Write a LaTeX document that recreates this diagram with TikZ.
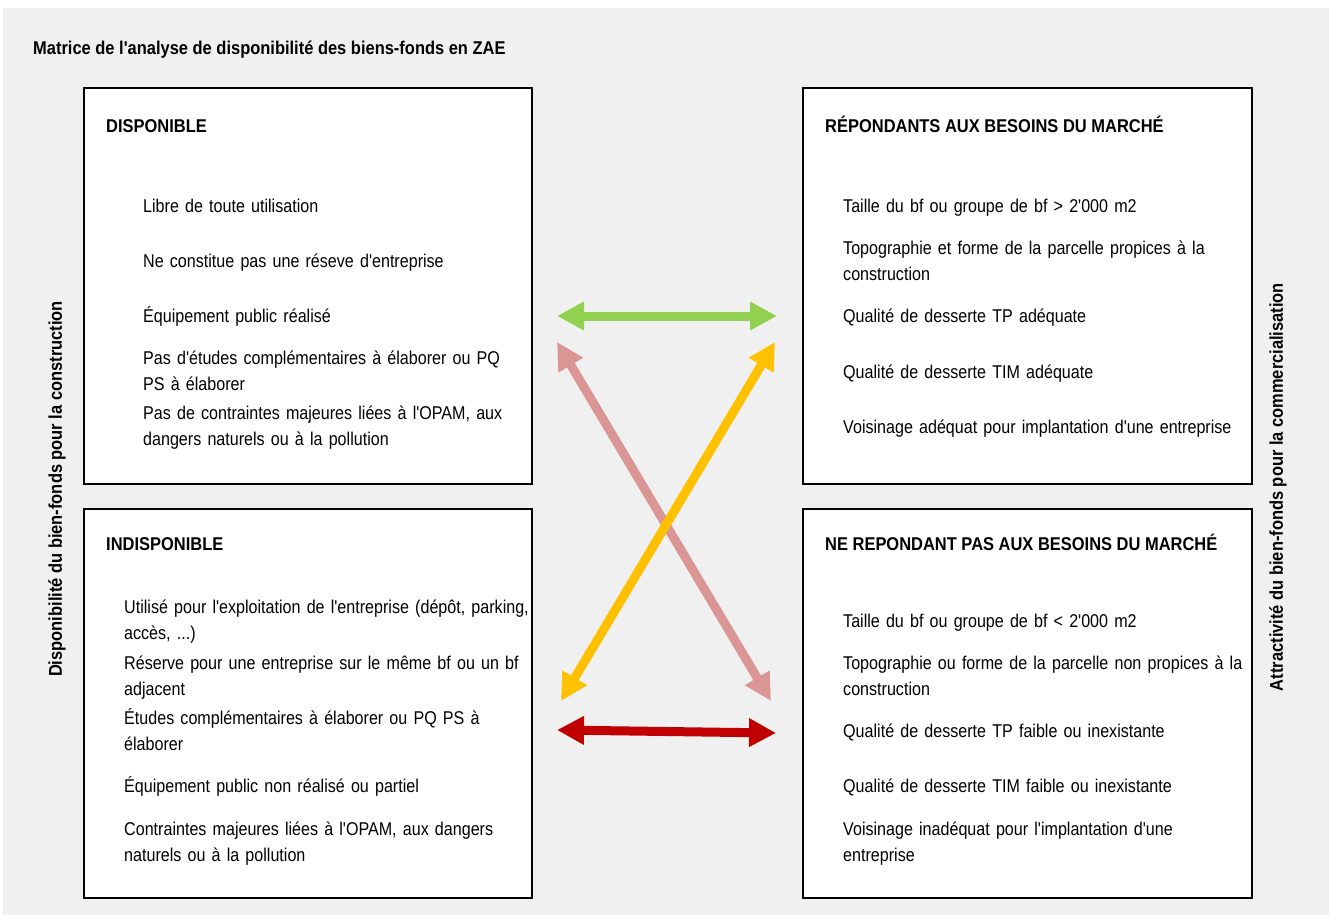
\documentclass[tikz,border=0pt]{standalone}
\usepackage{fontspec}
\setmainfont{Liberation Sans}[FakeStretch=0.87, Ligatures=TeXOff, BoldFeatures={FakeStretch=0.89}]
\usetikzlibrary{arrows.meta}
\definecolor{bggray}{HTML}{F0F0F0}
\definecolor{agreen}{HTML}{92D050}
\definecolor{apink}{HTML}{DA9694}
\definecolor{ayellow}{HTML}{FFC000}
\definecolor{ared}{HTML}{C00000}
\begin{document}
\begin{tikzpicture}[x=1pt,y=-1pt,
  box/.style={draw=black, line width=2pt, fill=white},
  txt/.style={anchor=base west, inner sep=0pt, align=left, text width=430pt, font=\fontsize{18.5}{26}\selectfont},
  ttl/.style={anchor=base west, inner sep=0pt, font=\bfseries\fontsize{18.5}{26}\selectfont},
  side/.style={inner sep=0pt, rotate=90, anchor=center, font=\bfseries\fontsize{18.5}{26}\selectfont},
  dbl/.style={line width=9pt, {Triangle[length=27pt,width=27pt]}-{Triangle[length=27pt,width=27pt]}}
]
\useasboundingbox (0,0) rectangle (1329,915);
\fill[white] (0,0) rectangle (1329,915);
\fill[bggray] (3,8) rectangle (1329,915);

% title
\node[ttl] (title) at (33,55) {Matrice de l'analyse de disponibilité des biens-fonds en ZAE};

% boxes
\draw[box] (84,88) rectangle (532,484);
\draw[box] (803,88) rectangle (1252,484);
\draw[box] (84,509) rectangle (532,898);
\draw[box] (803,509) rectangle (1252,898);

% side labels
\node[side] (lside) at (57,489) {Disponibilité du bien-fonds pour la construction};
\node[side] (rside) at (1278,487) {Attractivité du bien-fonds pour la commercialisation};

% top-left
\node[ttl] (tlT) at (106,132) {DISPONIBLE};
\node[txt] (tl1) at (143,212) {Libre de toute utilisation};
\node[txt] (tl2) at (143,267) {Ne constitue pas une réseve d'entreprise};
\node[txt] (tl3) at (143,322) {Équipement public réalisé};
\node[txt] (tl4) at (143,364) {Pas d'études complémentaires à élaborer ou PQ\\PS à élaborer};
\node[txt] (tl5) at (143,419) {Pas de contraintes majeures liées à l'OPAM, aux\\dangers naturels ou à la pollution};

% top-right
\node[ttl] (trT) at (825,132) {RÉPONDANTS AUX BESOINS DU MARCHÉ};
\node[txt] (tr1) at (843,212) {Taille du bf ou groupe de bf > 2'000 m2};
\node[txt] (tr2) at (843,254) {Topographie et forme de la parcelle propices à la\\construction};
\node[txt] (tr3) at (843,322) {Qualité de desserte TP adéquate};
\node[txt] (tr4) at (843,378) {Qualité de desserte TIM adéquate};
\node[txt] (tr5) at (843,433) {Voisinage adéquat pour implantation d'une entreprise};

% bottom-left
\node[ttl] (blT) at (106,550) {INDISPONIBLE};
\node[txt] (bl1) at (124,613) {Utilisé pour l'exploitation de l'entreprise (dépôt, parking,\\accès, ...)};
\node[txt] (bl2) at (124,669) {Réserve pour une entreprise sur le même bf ou un bf\\adjacent};
\node[txt] (bl3) at (124,724) {Études complémentaires à élaborer ou PQ PS à\\élaborer};
\node[txt] (bl4) at (124,792) {Équipement public non réalisé ou partiel};
\node[txt] (bl5) at (124,835) {Contraintes majeures liées à l'OPAM, aux dangers\\naturels ou à la pollution};

% bottom-right
\node[ttl] (brT) at (825,550) {NE REPONDANT PAS AUX BESOINS DU MARCHÉ};
\node[txt] (br1) at (843,627) {Taille du bf ou groupe de bf < 2'000 m2};
\node[txt] (br2) at (843,669) {Topographie ou forme de la parcelle non propices à la\\construction};
\node[txt] (br3) at (843,737) {Qualité de desserte TP faible ou inexistante};
\node[txt] (br4) at (843,792) {Qualité de desserte TIM faible ou inexistante};
\node[txt] (br5) at (843,835) {Voisinage inadéquat pour l'implantation d'une\\entreprise};

% arrow end points
\coordinate (gL) at (557,316);
\coordinate (gR) at (777,316);
\coordinate (rL) at (557,730);
\coordinate (rR) at (776,733);
\coordinate (pT) at (557,342);
\coordinate (pB) at (771,701);
\coordinate (yT) at (775,342);
\coordinate (yB) at (561,701);

\draw[dbl, agreen] (gL) -- (gR);
\draw[dbl, apink] (pT) -- (pB);
\draw[dbl, ayellow] (yT) -- (yB);
\draw[dbl, ared] (rL) -- (rR);
\end{tikzpicture}
\end{document}
